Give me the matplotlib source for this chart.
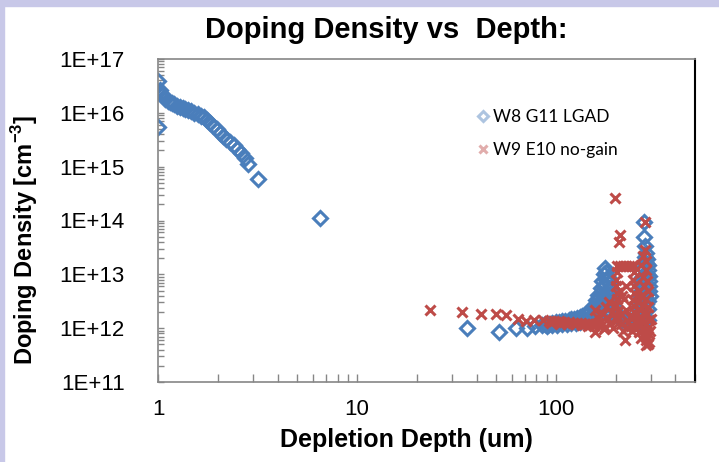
import numpy as np
import matplotlib.pyplot as plt
from matplotlib.patches import Rectangle
from matplotlib.ticker import LogLocator, FixedLocator, FuncFormatter, NullFormatter

# W8 G11 LGAD - profundidade (um) e dopagem (cm^-3)
lgad_x = [1.00, 1.00, 1.02, 1.03, 1.05, 1.07, 1.09, 1.12, 1.15, 1.18, 1.21, 1.25, 1.29,
          1.33, 1.37, 1.42, 1.47, 1.52, 1.58, 1.64, 1.70, 1.76, 1.83, 1.90, 1.97, 2.05,
          2.13, 2.21, 2.30, 2.40, 2.50, 2.61, 2.73, 2.85, 3.20, 6.50,
          35.6, 52, 63, 72, 79, 85,
          88, 92, 96, 100, 104, 108, 112, 116, 120, 124, 128, 132, 136, 140, 144, 148,
          152, 156, 160, 164, 168, 171, 174, 176,
          90, 96, 102, 108, 114, 120, 126, 132, 138, 144, 150, 156, 162, 166, 170, 172,
          175, 178,
          180, 183, 186, 189, 192, 195, 198, 201, 205, 210, 216, 222, 228,
          168, 172, 176, 180, 184, 178, 182, 186, 190,
          277, 277, 282, 286, 289, 291, 292, 293, 294, 295, 296, 297, 280, 284, 276, 272,
          270, 268, 266, 264, 262, 266, 272, 278, 284, 290, 286, 282, 279, 276, 288, 290,
          292, 258, 254, 250, 260]
lgad_y = [3.9e16, 5.4e15, 2.6e16, 2.3e16, 2.1e16, 1.95e16, 1.8e16, 1.68e16, 1.58e16,
          1.5e16, 1.43e16, 1.36e16, 1.3e16, 1.24e16, 1.18e16, 1.12e16, 1.06e16, 1.0e16,
          9.5e15, 8.9e15, 8.2e15, 7.4e15, 6.5e15, 5.7e15, 5.0e15, 4.3e15, 3.7e15, 3.3e15,
          2.9e15, 2.5e15, 2.15e15, 1.8e15, 1.45e15, 1.1e15, 6.0e14, 1.1e14,
          1.0e12, 8.4e11, 9.9e11, 1.0e12, 1.08e12, 1.15e12,
          1.2e12, 1.22e12, 1.25e12, 1.28e12, 1.3e12, 1.33e12, 1.37e12, 1.4e12, 1.45e12,
          1.5e12, 1.56e12, 1.62e12, 1.7e12, 1.8e12, 1.92e12, 2.1e12, 2.35e12, 2.7e12,
          3.3e12, 4.2e12, 5.6e12, 7.5e12, 1.0e13, 1.29e13,
          1.1e12, 1.13e12, 1.16e12, 1.18e12, 1.2e12, 1.23e12, 1.26e12, 1.3e12, 1.35e12,
          1.4e12, 1.5e12, 1.65e12, 1.9e12, 2.3e12, 3.0e12, 4.0e12, 6e12, 8e12,
          1.1e13, 9e12, 7e12, 5.5e12, 4.2e12, 3.2e12, 2.5e12, 2.0e12, 1.7e12, 1.5e12,
          1.4e12, 1.35e12, 1.3e12,
          3e12, 2.5e12, 3.5e12, 4.5e12, 3e12, 2e12, 1.8e12, 2.2e12, 1.9e12,
          9.5e13, 4.85e13, 3.3e13, 2.5e13, 1.9e13, 1.5e13, 1.2e13, 9.5e12, 7.5e12, 6e12,
          4.8e12, 3.9e12, 2.1e13, 1.6e13, 1.3e13, 9e12, 6.5e12, 5e12, 4e12, 3.2e12,
          2.6e12, 2.1e12, 1.8e12, 1.6e12, 1.5e12, 1.4e12, 2.8e12, 3.8e12, 5.5e12, 7.5e12,
          1.0e13, 3.2e12, 2.3e12, 1.8e12, 1.5e12, 1.3e12, 1.2e12]

# W9 E10 no-gain
nogain_x = [23.3, 33.6, 42.3, 50.3, 56.5, 64.7, 71, 78, 86,
            92, 98, 104, 110, 116, 122, 128, 134, 140, 146, 152, 158, 164,
            95, 105, 115, 125, 135, 145, 155, 165,
            157, 157, 162, 168, 172, 175, 177, 180, 183, 186, 188, 191, 194, 197, 199,
            207, 211,
            203, 203, 202, 201, 203, 204, 202, 205, 203, 204,
            210, 218, 226, 234, 242, 249,
            247, 246, 248, 247, 246, 248, 247, 246,
            210, 215, 220, 225, 212, 218, 222, 228, 232, 238, 214, 226, 236, 242,
            280, 282, 276, 284, 270, 286, 274, 288, 278, 262, 290, 268, 284, 258, 276,
            292, 264, 282, 288, 270, 260, 294, 278, 286, 266, 290, 274, 284, 262, 292,
            280, 288, 270, 286, 294, 290, 284, 256, 252, 300, 298]
nogain_y = [2.2e12, 2.0e12, 1.87e12, 1.83e12, 1.78e12, 1.47e12, 1.37e12, 1.4e12, 1.43e12,
            1.38e12, 1.35e12, 1.33e12, 1.3e12, 1.28e12, 1.26e12, 1.25e12, 1.24e12,
            1.22e12, 1.2e12, 1.2e12, 1.22e12, 1.25e12,
            1.25e12, 1.22e12, 1.2e12, 1.18e12, 1.15e12, 1.12e12, 1.1e12, 1.1e12,
            8.6e11, 2.16e12, 1.6e12, 1.3e12, 1.8e12, 9.5e11, 1.06e12, 2.5e12, 1.5e12,
            3.0e12, 1.2e12, 2e12, 1.0e12, 2.6e12, 2.58e14, 4.0e13, 5.4e13,
            1.42e13, 1.1e13, 8e12, 6e12, 4.5e12, 3.5e12, 2.7e12, 2.1e12, 1.7e12, 1.4e12,
            1.42e13, 1.4e13, 1.42e13, 1.4e13, 1.42e13, 1.4e13,
            1.1e13, 8e12, 6e12, 4.5e12, 3.4e12, 2.6e12, 2e12, 1.6e12,
            5e12, 4e12, 3.5e12, 6e12, 1.2e12, 9e11, 6.0e11, 1.0e12, 1.3e12, 1.1e12,
            1.8e12, 2.2e12, 1.6e12, 9e11,
            9.5e13, 2.8e13, 2.2e13, 1.8e13, 1.5e13, 1.2e13, 9e12, 7.5e12, 6e12, 5e12,
            5e12, 4e12, 3.5e12, 3e12, 2.7e12, 2.5e12, 2.2e12, 2e12, 1.8e12, 1.6e12,
            1.5e12, 1.4e12, 1.3e12, 1.2e12, 1.1e12, 1.0e12, 9.5e11, 9e11, 8.5e11, 8e11,
            7.5e11, 7e11, 6.5e11, 6e11, 5.5e11, 5.0e11, 4.8e11, 1.2e12, 1.0e12, 1.5e12,
            9e11]

yticks = [1e11, 1e12, 1e13, 1e14, 1e15, 1e16, 1e17]
xticks = [1, 10, 100]

blue = '#4a7ebb'
red = '#be4b48'

plt.rcParams['font.family'] = ['Liberation Sans', 'DejaVu Sans']
plt.rcParams['mathtext.fontset'] = 'custom'
plt.rcParams['mathtext.rm'] = 'Liberation Sans'
plt.rcParams['mathtext.bf'] = 'Liberation Sans:bold'

fig = plt.figure(figsize=(7.19, 4.62), dpi=100)
# faixa lilás do slide
fig.patches.append(Rectangle((0, 1 - 6 / 462), 1, 6 / 462, transform=fig.transFigure,
                             color='#c8c8e8', zorder=0))
fig.patches.append(Rectangle((0, 0), 4 / 719, 1, transform=fig.transFigure,
                             color='#c8c8e8', zorder=0))

ax = fig.add_axes([158 / 719, 1 - 382 / 462, (694.7 - 158) / 719, (382 - 59) / 462])

ax.plot(lgad_x, lgad_y, ls='none', marker='D', ms=7, mfc='none', mec=blue, mew=2.2,
        label='W8 G11 LGAD')
ax.plot(nogain_x, nogain_y, ls='none', marker='x', ms=7.5, mec=red, mew=2.2,
        label='W9 E10 no-gain')

ax.set_xscale('log')
ax.set_yscale('log')
ax.set_xlim(1, 500)
ax.set_ylim(1e11, 1e17)

ax.xaxis.set_major_locator(FixedLocator(xticks))
ax.xaxis.set_major_formatter(FuncFormatter(lambda v, p: f'{v:g}'))
ax.xaxis.set_minor_locator(LogLocator(base=10, subs=np.arange(2, 10)))
ax.xaxis.set_minor_formatter(NullFormatter())
ax.yaxis.set_major_locator(FixedLocator(yticks))
ax.yaxis.set_major_formatter(FuncFormatter(lambda v, p: f'1E+{int(round(np.log10(v)))}'))
ax.yaxis.set_minor_locator(LogLocator(base=10, subs=np.arange(2, 10)))
ax.yaxis.set_minor_formatter(NullFormatter())

ax.tick_params(axis='x', which='both', direction='in', length=6, width=1, color='#868686',
               labelsize=16, pad=12)
ax.tick_params(axis='y', which='both', direction='in', length=4, width=1, color='#868686',
               labelsize=16, pad=24)

for s in ['left', 'bottom', 'top']:
    ax.spines[s].set_color('#868686')
    ax.spines[s].set_linewidth(1.2)
ax.spines['right'].set_color('black')
ax.spines['right'].set_linewidth(1.5)

leg = ax.legend(loc='upper left', bbox_to_anchor=(0.583, 0.866), frameon=False,
                prop={'family': ['Lato', 'DejaVu Sans'], 'size': 12.5},
                handlelength=0.6, handletextpad=0.3, labelspacing=0.95, markerscale=0.8,
                borderaxespad=0)
for h in leg.legend_handles:
    h.set_alpha(0.45)

fig.text(386 / 719, 1 - 30 / 462, 'Doping Density vs  Depth:', ha='center', va='center',
         fontsize=21, fontweight='bold')
fig.text(406 / 719, 1 - 440 / 462, 'Depletion Depth (um)', ha='center', va='center',
         fontsize=18, fontweight='bold')
fig.text(25 / 719, 1 - 240 / 462, 'Doping Density [cm$^{\\mathbf{-3}}$]', ha='center',
         va='center', rotation=90, fontsize=17, fontweight='bold')

fig.savefig('out.png', dpi=100)
